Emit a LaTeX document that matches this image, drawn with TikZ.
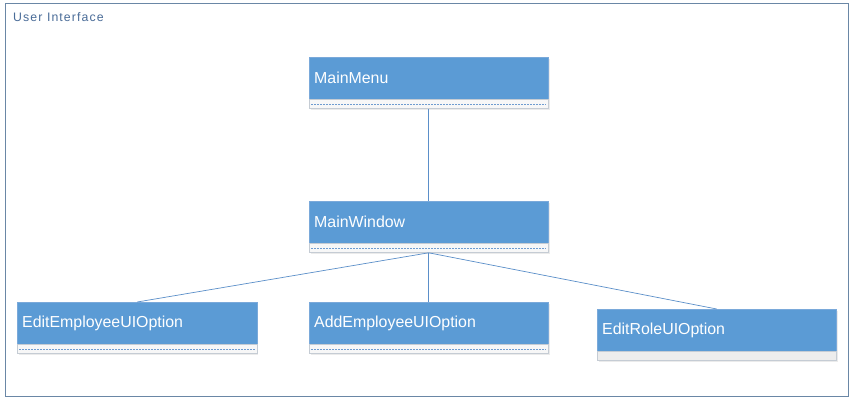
\documentclass[tikz,border=0pt]{standalone}
\usepackage{fontspec}
\setmainfont{Liberation Sans}
\begin{document}
\begin{tikzpicture}[x=1pt,y=-1pt,
  hdr/.style={draw=boxedge, fill=boxblue, rectangle, minimum width=239pt, minimum height=42pt,
    text=white, font=\fontsize{15.9}{16}\selectfont, align=left, text width=229pt, inner xsep=5pt, inner ysep=0pt, anchor=north west},
  comp/.style={draw=compedge, fill=compfill, rectangle, minimum width=239pt, minimum height=9pt, inner sep=0pt, anchor=north},
  conn/.style={draw=linecol, line width=0.7pt},
  dashline/.style={draw=dashcol, dash pattern=on 2pt off 1pt, line width=0.7pt},
  shadowbox/.style={fill=black!8}
]
\definecolor{boxblue}{HTML}{5B9BD5}
\definecolor{boxedge}{HTML}{7AA9DA}
\definecolor{compedge}{HTML}{C5CCD4}
\definecolor{compfill}{HTML}{F7F7F7}
\definecolor{linecol}{HTML}{5B8FC9}
\definecolor{dashcol}{HTML}{6F9CD0}
\definecolor{framecol}{HTML}{6A87A6}
\definecolor{labelcol}{HTML}{4A6C98}
\useasboundingbox (0,0) rectangle (854,404);
\fill[white] (0,0) rectangle (854,404);
\node[draw=framecol, line width=0.8pt, rectangle, minimum width=843pt, minimum height=393pt, anchor=north west, inner sep=0pt] (frame) at (5,3) {};
\node[anchor=west, text=labelcol, font=\fontsize{12.3}{13}\selectfont\addfontfeature{LetterSpace=9}, inner sep=0pt] (uilabel) at (13,17) {User Interface};

% MainMenu
\fill[shadowbox] (311,59) rectangle (550,110);
\node[hdr] (mm) at (309,57) {MainMenu};
\node[comp] (mmc) at (mm.south) {};
\draw[dashline] ([xshift=2pt]mmc.west) -- ([xshift=-2pt]mmc.east);

% MainWindow
\fill[shadowbox] (311,203) rectangle (550,254);
\node[hdr] (mw) at (309,201) {MainWindow};
\node[comp] (mwc) at (mw.south) {};
\draw[dashline] ([xshift=2pt]mwc.west) -- ([xshift=-2pt]mwc.east);

% EditEmployeeUIOption
\fill[shadowbox] (19,304) rectangle (258,355);
\node[hdr, minimum width=240pt, text width=230pt] (ee) at (17,302) {EditEmployeeUIOption};
\node[comp, minimum width=240pt] (eec) at (ee.south) {};
\draw[dashline] ([xshift=2pt]eec.west) -- ([xshift=-2pt]eec.east);

% AddEmployeeUIOption
\fill[shadowbox] (311,304) rectangle (550,355);
\node[hdr] (ae) at (309,302) {AddEmployeeUIOption};
\node[comp] (aec) at (ae.south) {};
\draw[dashline] ([xshift=2pt]aec.west) -- ([xshift=-2pt]aec.east);

% EditRoleUIOption
\fill[shadowbox] (599,311) rectangle (838,362);
\node[hdr] (er) at (597,309) {EditRoleUIOption};
\node[comp, fill=black!7] (erc) at (er.south) {};

% connectors
\draw[conn] (mmc.south) -- (mw.north);
\draw[conn] (mwc.south) -- (ee.north);
\draw[conn] (mwc.south) -- (ae.north);
\draw[conn] (mwc.south) -- (er.north);
\end{tikzpicture}
\end{document}
